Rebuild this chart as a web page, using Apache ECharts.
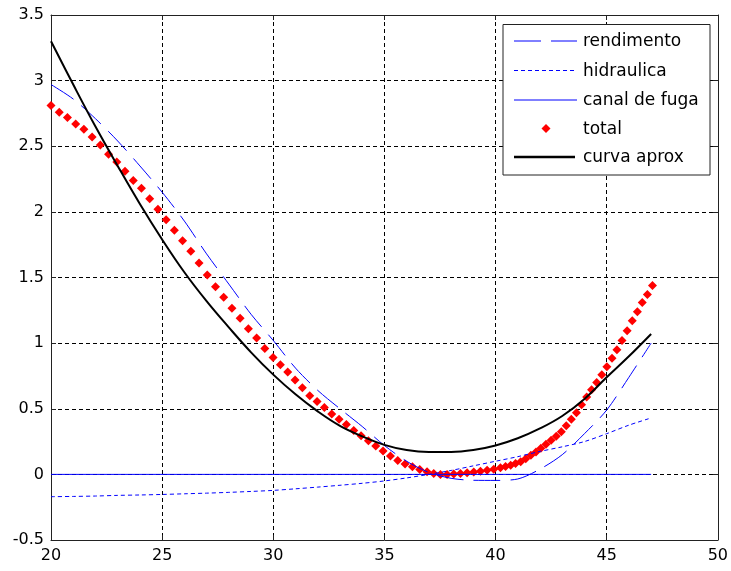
<!DOCTYPE html>
<html>
<head>
    <meta charset="utf-8">
    <title>curvas</title>
    <style>
        html, body { margin: 0; padding: 0; background: #fff; }
        #main { width: 731px; height: 571px; }
    </style>
</head>
<body>
<div id="main"></div>
<script src="https://cdn.jsdelivr.net/npm/echarts@6/dist/echarts.min.js"></script>
<script>
    // eixo x das curvas continuas
    var xs = [20, 21, 22, 23, 24, 25, 26, 27, 28, 29, 30, 31, 32, 33, 34, 35, 36, 37, 38, 39, 40, 41, 42, 43, 44, 45, 46, 47];
    var rendimento = [2.97, 2.86, 2.71, 2.54, 2.35, 2.15, 1.93, 1.68, 1.45, 1.22, 1.02, 0.81, 0.64, 0.50, 0.365, 0.22, 0.10, 0.015, -0.03, -0.045, -0.046, -0.035, 0.04, 0.15, 0.31, 0.49, 0.74, 1.00];
    var hidraulica = [-0.17, -0.168, -0.165, -0.16, -0.157, -0.153, -0.148, -0.143, -0.137, -0.13, -0.122, -0.11, -0.097, -0.083, -0.068, -0.05, -0.027, 0.0, 0.03, 0.065, 0.10, 0.135, 0.175, 0.21, 0.25, 0.31, 0.375, 0.43];
    var curvaAprox = [3.30, 2.97, 2.65, 2.35, 2.06, 1.79, 1.54, 1.32, 1.12, 0.93, 0.76, 0.61, 0.48, 0.37, 0.29, 0.225, 0.185, 0.17, 0.17, 0.185, 0.22, 0.275, 0.35, 0.445, 0.575, 0.74, 0.90, 1.07];
    var canalX = [20, 47];
    var canalY = [0, 0];
    // pontos do total (losangos vermelhos)
    var totalX = [20, 20.37, 20.74, 21.11, 21.48, 21.85, 22.22, 22.59, 22.96, 23.33,
        23.7, 24.07, 24.44, 24.81, 25.18, 25.55, 25.92, 26.29, 26.66, 27.03,
        27.4, 27.77, 28.14, 28.51, 28.88, 29.25, 29.62, 29.99,
        30.32, 30.65, 30.98, 31.31, 31.64, 31.97, 32.3, 32.63, 32.96, 33.29, 33.62, 33.95, 34.28, 34.61, 34.94, 35.27, 35.6, 35.93, 36.26, 36.59, 36.92,
        37.22, 37.52, 37.82, 38.12, 38.42, 38.72, 39.02, 39.32, 39.62, 39.92, 40.22,
        40.45, 40.68, 40.9, 41.13, 41.36, 41.59, 41.82, 42.04, 42.27, 42.5, 42.73, 42.96, 43.18, 43.41, 43.64, 43.87, 44.1, 44.32, 44.55, 44.78,
        45.01, 45.24, 45.46, 45.69, 45.92, 46.15, 46.38, 46.6, 46.83, 47.06];
    var totalY = [2.81, 2.76, 2.72, 2.67, 2.63, 2.57, 2.51, 2.44, 2.38, 2.31,
        2.24, 2.18, 2.10, 2.02, 1.94, 1.86, 1.78, 1.70, 1.61, 1.52,
        1.43, 1.35, 1.265, 1.19, 1.11, 1.04, 0.96, 0.89,
        0.835, 0.78, 0.72, 0.66, 0.60, 0.555, 0.51, 0.46, 0.42, 0.38, 0.335, 0.295, 0.257, 0.217, 0.178, 0.14, 0.105, 0.08, 0.058, 0.038, 0.02,
        0.006, 0.0, 0.0, 0.003, 0.007, 0.012, 0.018, 0.024, 0.032, 0.04, 0.05,
        0.06, 0.07, 0.083, 0.097, 0.12, 0.145, 0.17, 0.2, 0.23, 0.26, 0.29, 0.325, 0.37, 0.42, 0.47, 0.53, 0.59, 0.645, 0.70, 0.76,
        0.82, 0.885, 0.95, 1.02, 1.095, 1.17, 1.24, 1.31, 1.37, 1.44];
    var xTicks = [20, 25, 30, 35, 40, 45, 50];
    var yTicks = [-0.5, 0, 0.5, 1, 1.5, 2, 2.5, 3, 3.5];
    var nomes = ['rendimento', 'hidraulica', 'canal de fuga', 'total', 'curva aprox'];

    function pares(a, b) {
        return a.map(function (v, i) { return [v, b[i]]; });
    }

    var fonte = 'DejaVu Sans';
    var eixoCor = '#222';
    var azul = '#0000ff';

    var myChart = echarts.init(document.getElementById('main'));

    // legenda desenhada a mao (estilo matlab)
    var lx = 514, lw = 63, tx = 583;
    var ly = [41, 70.5, 100, 128.5, 157];
    var legenda = [
        {type: 'rect', shape: {x: 503, y: 24.5, width: 207, height: 150.5}, style: {fill: '#fff', stroke: eixoCor, lineWidth: 1}},
        {type: 'line', shape: {x1: lx, y1: ly[0], x2: lx + lw, y2: ly[0]}, style: {stroke: azul, lineWidth: 1, lineDash: [27, 10]}},
        {type: 'line', shape: {x1: lx, y1: ly[1], x2: lx + lw, y2: ly[1]}, style: {stroke: azul, lineWidth: 1, lineDash: [4, 3]}},
        {type: 'line', shape: {x1: lx, y1: ly[2], x2: lx + lw, y2: ly[2]}, style: {stroke: azul, lineWidth: 1}},
        {type: 'polygon', shape: {points: [[546, ly[3] - 4.5], [550.5, ly[3]], [546, ly[3] + 4.5], [541.5, ly[3]]]}, style: {fill: '#ff0000'}},
        {type: 'line', shape: {x1: lx, y1: ly[4], x2: lx + lw - 2, y2: ly[4]}, style: {stroke: '#000', lineWidth: 2.5}}
    ];
    nomes.forEach(function (n, i) {
        legenda.push({
            type: 'text', x: tx, y: ly[i] + 1,
            style: {text: n, fill: '#000', font: '17px "' + fonte + '"', textVerticalAlign: 'middle'}
        });
    });
    legenda.forEach(function (g) { g.z = 100; });

    var gridLinha = {show: true, lineStyle: {color: '#000', type: [4, 3], width: 1}};

    myChart.setOption({
        animation: false,
        grid: {left: 51, right: 13, top: 15, bottom: 31, containLabel: false},
        xAxis: [
            {
                type: 'value', min: xTicks[0], max: xTicks[xTicks.length - 1], interval: 5,
                axisLine: {show: true, onZero: false, lineStyle: {color: eixoCor, width: 1}},
                axisTick: {show: true, inside: true, length: 5, lineStyle: {color: eixoCor}},
                axisLabel: {color: '#000', fontFamily: fonte, fontSize: 16, margin: 8},
                splitLine: gridLinha
            },
            {
                type: 'value', position: 'top', min: xTicks[0], max: xTicks[xTicks.length - 1], interval: 5,
                axisLine: {show: true, onZero: false, lineStyle: {color: eixoCor, width: 1}},
                axisTick: {show: true, inside: true, length: 5, lineStyle: {color: eixoCor}},
                axisLabel: {show: false},
                splitLine: {show: false}
            }
        ],
        yAxis: [
            {
                type: 'value', min: yTicks[0], max: yTicks[yTicks.length - 1], interval: 0.5,
                axisLine: {show: true, onZero: false, lineStyle: {color: eixoCor, width: 1}},
                axisTick: {show: true, inside: true, length: 5, lineStyle: {color: eixoCor}},
                axisLabel: {color: '#000', fontFamily: fonte, fontSize: 16, margin: 7},
                splitLine: gridLinha
            },
            {
                type: 'value', position: 'right', min: yTicks[0], max: yTicks[yTicks.length - 1], interval: 0.5,
                axisLine: {show: true, onZero: false, lineStyle: {color: eixoCor, width: 1}},
                axisTick: {show: true, inside: true, length: 5, lineStyle: {color: eixoCor}},
                axisLabel: {show: false},
                splitLine: {show: false}
            }
        ],
        series: [
            {
                name: nomes[0], type: 'line', data: pares(xs, rendimento), symbol: 'none', smooth: 0.3,
                lineStyle: {color: azul, width: 1, type: [27, 10]}
            },
            {
                name: nomes[1], type: 'line', data: pares(xs, hidraulica), symbol: 'none', smooth: 0.3,
                lineStyle: {color: azul, width: 1, type: [4, 3]}
            },
            {
                name: nomes[2], type: 'line', data: pares(canalX, canalY), symbol: 'none',
                lineStyle: {color: azul, width: 1}
            },
            {
                name: nomes[3], type: 'scatter', data: pares(totalX, totalY), symbol: 'diamond', symbolSize: 9,
                itemStyle: {color: '#ff0000', opacity: 1}
            },
            {
                name: nomes[4], type: 'line', data: pares(xs, curvaAprox), symbol: 'none', smooth: 0.4,
                lineStyle: {color: '#000', width: 2}
            }
        ],
        graphic: legenda
    });
</script>
</body>
</html>
